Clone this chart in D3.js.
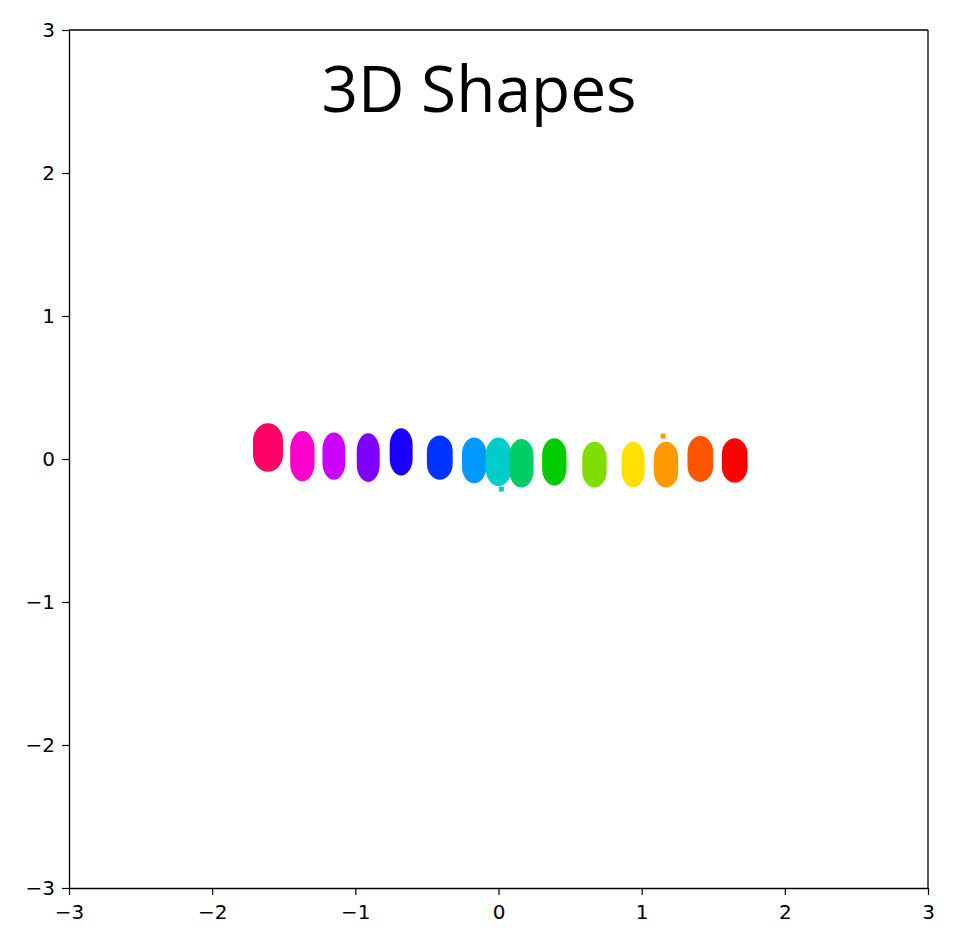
<!DOCTYPE html>
<html>
<head>
<meta charset="utf-8">
<script src="https://cdn.jsdelivr.net/npm/d3@7"></script>
<style>
  body { margin: 0; background: #fff; }
  svg { display: block; }
</style>
</head>
<body>
<svg width="957" height="949"></svg>
<script>
const width = 957,
    height = 949,
    margin = {top: 30, right: 29, bottom: 61, left: 69};

// cluster centres and spread (data units)
const clusterX = [-1.61, -1.37, -1.15, -0.91, -0.68, -0.41, -0.17, 0.0, 0.16, 0.39, 0.67, 0.94, 1.17, 1.41, 1.65];
const clusterY = [0.08, 0.02, 0.02, 0.01, 0.05, 0.01, -0.01, -0.02, -0.03, -0.02, -0.04, -0.04, -0.04, 0.0, -0.01];
const clusterW = [0.21, 0.17, 0.16, 0.16, 0.16, 0.18, 0.17, 0.18, 0.17, 0.17, 0.17, 0.16, 0.17, 0.18, 0.18];
const clusterH = [0.34, 0.35, 0.33, 0.34, 0.33, 0.31, 0.32, 0.34, 0.34, 0.33, 0.32, 0.32, 0.32, 0.32, 0.31];
const clusterColor = ['#ff0066', '#ff00cc', '#cc00ff', '#7f00ff', '#1a00ff', '#0033ff', '#0099ff', '#00cccc',
    '#00cc66', '#00cc00', '#80dd00', '#ffe000', '#ff9900', '#ff5500', '#ff0000'];

// a few stray points outside the blobs
const strayX = [-0.69, 0.02, 1.15];
const strayY = [0.19, -0.21, 0.16];
const strayC = ['#1a00ff', '#00cccc', '#ff9900'];

const ticks = [-3, -2, -1, 0, 1, 2, 3];

const svg = d3.select("svg");

const x = d3.scaleLinear().domain([-3, 3]).range([margin.left, width - margin.right]);
const y = d3.scaleLinear().domain([-3, 3]).range([height - margin.bottom, margin.top]);

const fmt = d => d < 0 ? "\u2212" + Math.abs(d) : String(d);

const blobs = clusterX.map((cx, i) => ({cx, cy: clusterY[i], w: clusterW[i], h: clusterH[i], c: clusterColor[i]}));

svg.append("g").selectAll("rect")
    .data(blobs)
    .enter().append("rect")
    .attr("x", d => x(d.cx - d.w / 2))
    .attr("y", d => y(d.cy + d.h / 2))
    .attr("width", d => x(d.w) - x(0))
    .attr("height", d => y(0) - y(d.h))
    .attr("rx", d => (x(d.w) - x(0)) * 0.5)
    .attr("ry", d => (y(0) - y(d.h)) * 0.36)
    .style("fill", d => d.c);

svg.append("g").selectAll("rect")
    .data(strayX.map((v, i) => ({x: v, y: strayY[i], c: strayC[i]})))
    .enter().append("rect")
    .attr("x", d => x(d.x) - 2.5)
    .attr("y", d => y(d.y) - 2.5)
    .attr("width", 5)
    .attr("height", 5)
    .style("fill", d => d.c);

const xAxis = svg.append("g")
    .attr("transform", "translate(0," + (height - margin.bottom) + ")")
    .call(d3.axisBottom(x).tickValues(ticks).tickFormat(fmt).tickSize(7).tickSizeOuter(0));

const yAxis = svg.append("g")
    .attr("transform", "translate(" + margin.left + ",0)")
    .call(d3.axisLeft(y).tickValues(ticks).tickFormat(fmt).tickSize(7).tickSizeOuter(0));

// top and right spines
svg.append("line")
    .attr("x1", x(-3)).attr("x2", x(3)).attr("y1", y(3)).attr("y2", y(3));
svg.append("line")
    .attr("x1", x(3)).attr("x2", x(3)).attr("y1", y(3)).attr("y2", y(-3));
svg.selectAll("line").filter(function () { return !this.closest(".tick"); })
    .attr("stroke", "#000").attr("stroke-width", 1.3);

[xAxis, yAxis].forEach(a => {
    a.select(".domain").attr("stroke-width", 1.3);
    a.selectAll(".tick line").attr("stroke-width", 1.2);
    a.selectAll("text")
        .style("font-family", "'DejaVu Sans', sans-serif")
        .style("font-size", "20px")
        .style("fill", "#000");
});
xAxis.selectAll("text").attr("y", 17);
yAxis.selectAll("text").attr("x", -14);

svg.append("text")
    .attr("x", 479)
    .attr("y", 112)
    .attr("text-anchor", "middle")
    .style("font-family", "'Open Sans', 'Noto Sans', sans-serif")
    .style("font-size", "64px")
    .style("fill", "#000")
    .text("3D Shapes");
</script>
</body>
</html>
